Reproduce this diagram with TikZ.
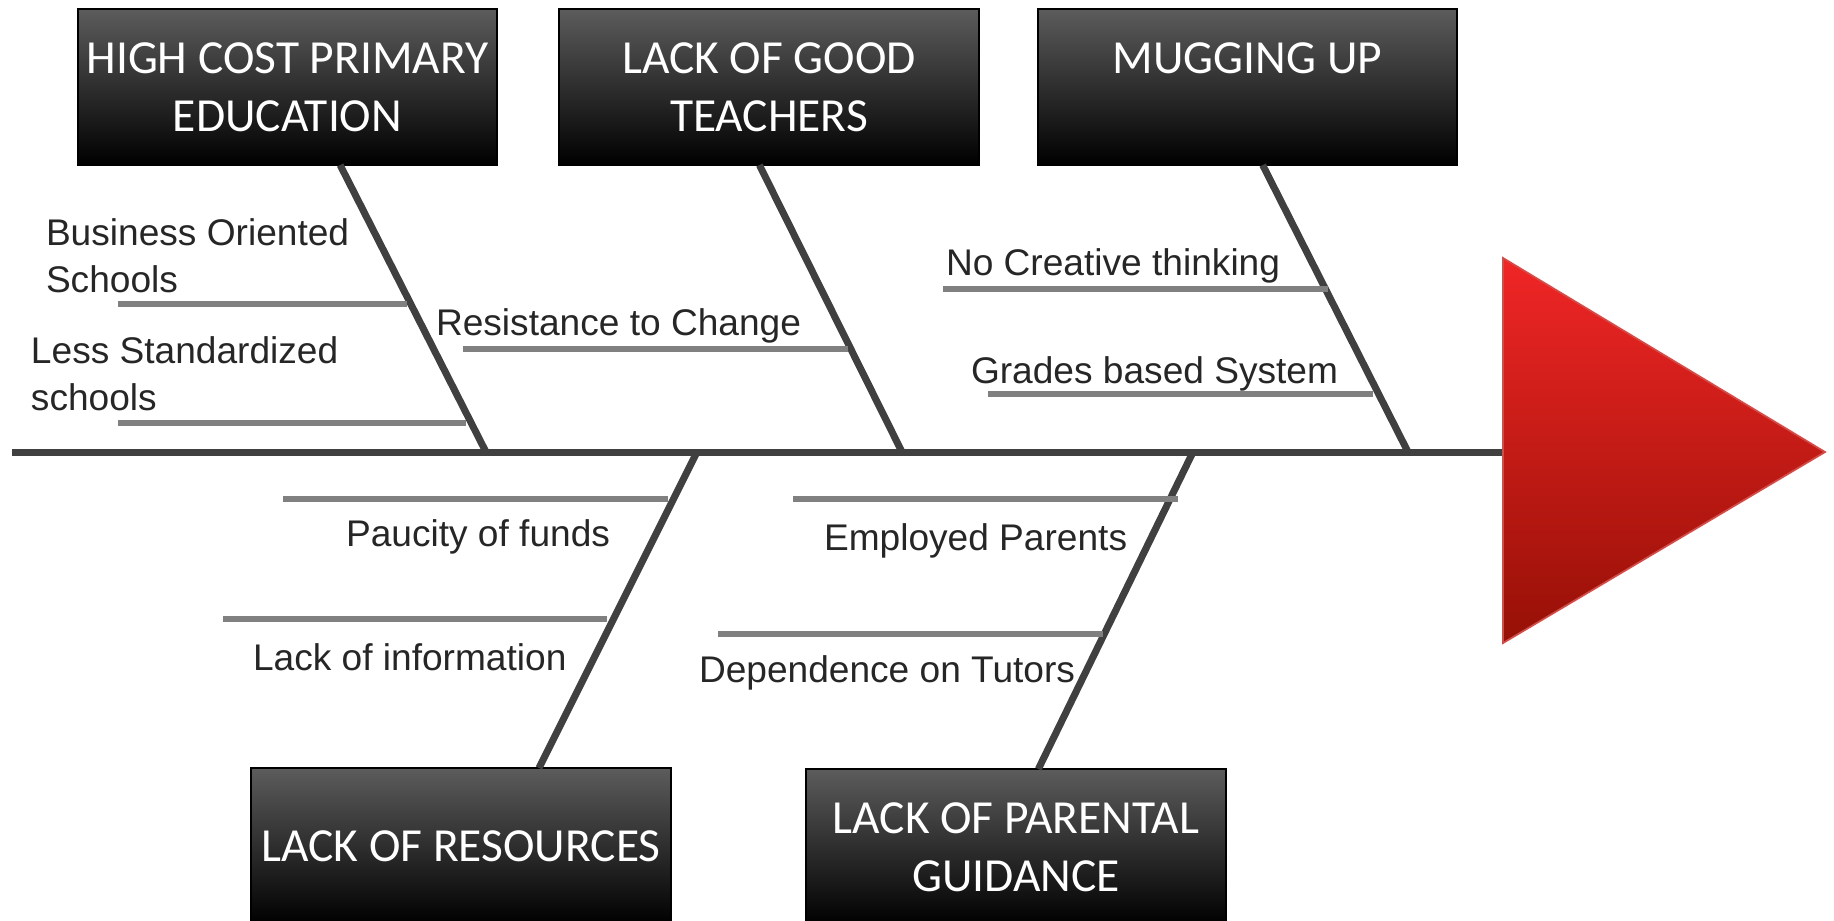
\documentclass[tikz,border=0pt]{standalone}
\usepackage{fontspec}
\setmainfont{Liberation Sans}
\newfontfamily\boxfont{Carlito}
\usepackage{tikz}

\definecolor{spinegray}{RGB}{64,64,64}
\definecolor{ribgray}{RGB}{128,128,128}
\definecolor{labelgray}{RGB}{38,38,38}
\definecolor{boxtop}{RGB}{92,92,92}
\definecolor{headtop}{RGB}{240,38,38}
\definecolor{headbot}{RGB}{150,16,6}
\definecolor{headedge}{RGB}{200,80,77}

\begin{document}
\begin{tikzpicture}[x=0.01cm, y=-0.01cm,
      every node/.append style={inner sep=0pt, outer sep=0pt},
      cause/.style={draw=black, line width=0.6pt, top color=boxtop, bottom color=black,
        minimum width=4.19cm, minimum height=1.56cm, text width=4.19cm, align=flush center,
        text=white, font=\boxfont\fontsize{13.5}{16.4}\selectfont},
      reason/.style={anchor=base west, align=left, text=labelgray,
        font=\fontsize{10.55}{13.1}\selectfont}]
    \tikzstyle{bone} = [draw=spinegray, line width=2pt]
    \tikzstyle{rib} = [draw=ribgray, line width=1.7pt]
    \useasboundingbox (0,0) rectangle (1834,920);
    \node (high_cost) [cause] at (287.5,87) {HIGH COST PRIMARY\\EDUCATION};
    \node (good_teachers) [cause] at (769,87) {LACK OF GOOD\\TEACHERS};
    \node (mugging) [cause] at (1247.5,87) {MUGGING UP\\\mbox{}};
    \node (resources) [cause] at (461,846) {LACK OF RESOURCES};
    \node (parental) [cause] at (1016,847) {LACK OF PARENTAL\\GUIDANCE};
    \coordinate (tail) at (12,452);
    \coordinate (head) at (1503,452);
    \coordinate (cost_joint) at (486,452);
    \coordinate (teachers_joint) at (902,452);
    \coordinate (mugging_joint) at (1408,452);
    \coordinate (resources_joint) at (697,452);
    \coordinate (parental_joint) at (1193,452);
    \draw[bone] (tail) -- (head);
    \draw[bone] (high_cost.-56) -- (cost_joint);
    \draw[bone] (good_teachers.-97) -- (teachers_joint);
    \draw[bone] (mugging.-79) -- (mugging_joint);
    \draw[bone] (resources.45) -- (resources_joint);
    \draw[bone] (parental.74) -- (parental_joint);
    \shadedraw[top color=headtop, bottom color=headbot, draw=headedge, line width=0.5pt]
      (head |- 0,258) -- (1825,452) -- (head |- 0,643) -- cycle;
    \coordinate (business_end) at (407,304);
    \coordinate (standard_end) at (466,423);
    \coordinate (change_end) at (848,349);
    \coordinate (creative_end) at (1328,289);
    \coordinate (grades_end) at (1373,394);
    \coordinate (funds_end) at (668,499);
    \coordinate (info_end) at (607,619);
    \coordinate (employed_end) at (1178,499);
    \coordinate (tutors_end) at (1103,634);
    \draw[rib] (business_end) -- ++(-289,0);
    \draw[rib] (standard_end) -- ++(-348,0);
    \draw[rib] (change_end) -- ++(-385,0);
    \draw[rib] (creative_end) -- ++(-385,0);
    \draw[rib] (grades_end) -- ++(-385,0);
    \draw[rib] (funds_end) -- ++(-385,0);
    \draw[rib] (info_end) -- ++(-384,0);
    \draw[rib] (employed_end) -- ++(-385,0);
    \draw[rib] (tutors_end) -- ++(-385,0);
    \node (business) [reason] at (46,292) {Business Oriented\\Schools};
    \node (standard) [reason] at (31,410) {Less Standardized\\schools};
    \node (change) [reason] at (436,335) {Resistance to Change};
    \node (creative) [reason] at (946,275) {No Creative thinking};
    \node (grades) [reason] at (971,383) {Grades based System};
    \node (funds) [reason] at (346,546) {Paucity of funds};
    \node (info) [reason] at (253,670) {Lack of information};
    \node (employed) [reason] at (824,550) {Employed Parents};
    \node (tutors) [reason] at (699,682) {Dependence on Tutors};
  \end{tikzpicture}
\end{document}
